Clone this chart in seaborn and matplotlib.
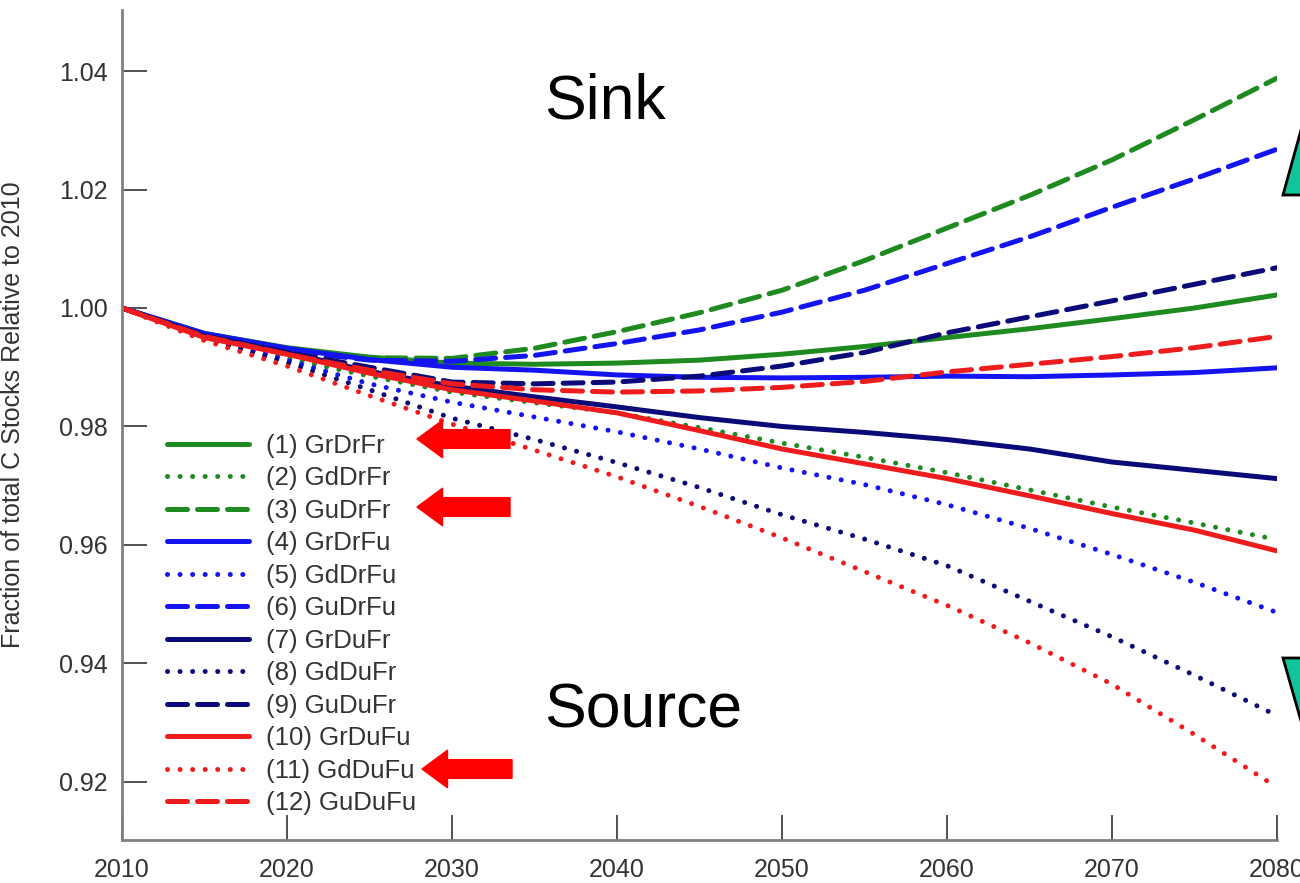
import matplotlib
matplotlib.use("Agg")
import matplotlib.pyplot as plt
from matplotlib import font_manager
from matplotlib.patches import Polygon
import seaborn as sns

# ---------------- DATA ----------------
years = [2010, 2015, 2020, 2025, 2030, 2035, 2040, 2045, 2050, 2055, 2060, 2065, 2070, 2075, 2080]

gr_dr_fr = [1.000, 0.9957, 0.9933, 0.9917, 0.9907, 0.9905, 0.9907, 0.9912, 0.9922, 0.9935, 0.9950, 0.9965, 0.9982, 1.0000, 1.0022]
gd_dr_fr = [1.000, 0.9948, 0.9915, 0.9885, 0.9858, 0.9840, 0.9823, 0.9798, 0.9772, 0.9748, 0.9722, 0.9693, 0.9664, 0.9637, 0.9609]
gu_dr_fr = [1.000, 0.9955, 0.9930, 0.9916, 0.9915, 0.9932, 0.9960, 0.9992, 1.0030, 1.0080, 1.0135, 1.0190, 1.0250, 1.0318, 1.0388]
gr_dr_fu = [1.000, 0.9957, 0.9932, 0.9913, 0.9900, 0.9895, 0.9887, 0.9883, 0.9882, 0.9883, 0.9885, 0.9884, 0.9887, 0.9891, 0.9899]
gd_dr_fu = [1.000, 0.9950, 0.9912, 0.9872, 0.9841, 0.9816, 0.9791, 0.9762, 0.9730, 0.9702, 0.9668, 0.9628, 0.9584, 0.9537, 0.9486]
gu_dr_fu = [1.000, 0.9955, 0.9928, 0.9912, 0.9910, 0.9920, 0.9940, 0.9963, 0.9993, 1.0030, 1.0075, 1.0120, 1.0170, 1.0218, 1.0268]
gr_du_fr = [1.000, 0.9953, 0.9925, 0.9893, 0.9868, 0.9850, 0.9833, 0.9815, 0.9800, 0.9790, 0.9778, 0.9762, 0.9740, 0.9726, 0.9712]
gd_du_fr = [1.000, 0.9948, 0.9908, 0.9862, 0.9814, 0.9778, 0.9739, 0.9697, 0.9651, 0.9610, 0.9565, 0.9505, 0.9445, 0.9380, 0.9312]
gu_du_fr = [1.000, 0.9953, 0.9925, 0.9900, 0.9875, 0.9872, 0.9875, 0.9885, 0.9902, 0.9925, 0.9958, 0.9985, 1.0012, 1.0040, 1.0068]
gr_du_fu = [1.000, 0.9950, 0.9922, 0.9890, 0.9862, 0.9843, 0.9823, 0.9793, 0.9762, 0.9737, 0.9712, 0.9683, 0.9653, 0.9625, 0.9590]
gd_du_fu = [1.000, 0.9945, 0.9902, 0.9852, 0.9804, 0.9760, 0.9715, 0.9665, 0.9612, 0.9555, 0.9498, 0.9435, 0.9365, 0.9280, 0.9191]
gu_du_fu = [1.000, 0.9952, 0.9922, 0.9895, 0.9872, 0.9862, 0.9858, 0.9860, 0.9866, 0.9876, 0.9892, 0.9905, 0.9918, 0.9933, 0.9952]

labels = ["(1) GrDrFr", "(2) GdDrFr", "(3) GuDrFr", "(4) GrDrFu", "(5) GdDrFu", "(6) GuDrFu",
          "(7) GrDuFr", "(8) GdDuFr", "(9) GuDuFr", "(10) GrDuFu", "(11) GdDuFu", "(12) GuDuFu"]
series = [gr_dr_fr, gd_dr_fr, gu_dr_fr, gr_dr_fu, gd_dr_fu, gu_dr_fu,
          gr_du_fr, gd_du_fr, gu_du_fr, gr_du_fu, gd_du_fu, gu_du_fu]

yticks = [0.92, 0.94, 0.96, 0.98, 1.00, 1.02, 1.04]
xticks = [2010, 2020, 2030, 2040, 2050, 2060, 2070, 2080]
# --------------------------------------

GREEN = "#1f8a1f"
BLUE = "#1414f0"
NAVY = "#0a0a78"
RED = "#ee1c1c"
colors = [GREEN] * 3 + [BLUE] * 3 + [NAVY] * 3 + [RED] * 3
SOLID, DOT, DASH = None, (0.01, 2.5), (4.0, 2.0)
styles = [SOLID, DOT, DASH] * 4

sns.set_style("white")
names = {f.name for f in font_manager.fontManager.ttflist}
NARROW = "Liberation Sans Narrow" if "Liberation Sans Narrow" in names else "Liberation Sans"
plt.rcParams["font.family"] = ["Liberation Sans", "DejaVu Sans"]

W, H = 1300, 883
fig = plt.figure(figsize=(W / 100, H / 100), dpi=100)
ax = fig.add_axes([122 / W, (H - 840) / H, (1277 - 122) / W, (840 - 10) / H])

for vals, lab, col, sty in zip(series, labels, colors, styles):
    sns.lineplot(x=years, y=vals, ax=ax, color=col, lw=3.6, label=lab)
    line = ax.get_lines()[-1]
    if sty is not None:
        line.set_dashes(sty)
        line.set_dash_capstyle("round")

ax.set_xlim(2010, 2080)
ax.set_ylim(0.9102, 1.0503)
ax.set_xticks(xticks)
ax.set_yticks(yticks)
ax.set_yticklabels([f"{t:.2f}" for t in yticks])
ax.set_xticklabels([str(t) for t in xticks])
ax.tick_params(axis="both", direction="in", length=18, width=1.2, color="#333333",
               labelcolor="#333333", labelsize=18, pad=10, left=True, bottom=True)
ax.tick_params(axis="x", labelsize=18, pad=13)
for s in ["top", "right"]:
    ax.spines[s].set_visible(False)
for s in ["left", "bottom"]:
    ax.spines[s].set_color("#808080")
    ax.spines[s].set_linewidth(2)

ax.set_xlabel("")
ax.set_ylabel("Fraction of total C Stocks Relative to 2010", fontsize=18,
              family=[NARROW, "DejaVu Sans"], color="#333333")
ax.yaxis.set_label_coords(-0.084, 0.512)

handles = ax.get_lines()
ax.legend(handles, labels, loc="upper left", bbox_to_anchor=(167 / W, 1 - 434 / H),
          bbox_transform=fig.transFigure, frameon=False, fontsize=18.5, handlelength=3.2,
          handletextpad=0.65, labelspacing=0.33, borderpad=0, borderaxespad=0,
          labelcolor="#333333")

ax.text(2035.6, 1.032, "Sink", fontsize=45, va="baseline", ha="left", color="black")
ax.text(2035.6, 0.9292, "Source", fontsize=45, va="baseline", ha="left", color="black")

# red arrows pointing at the highlighted scenarios
for tip_x, tail_x, y in [(417, 510, 439), (417, 510, 507), (422, 512, 769)]:
    ax.annotate("", xy=(tip_x, H - y), xycoords="figure pixels",
                xytext=(tail_x, H - y), textcoords="figure pixels",
                arrowprops=dict(arrowstyle="simple,head_length=0.68,head_width=1.0,tail_width=0.5",
                                mutation_scale=27, color="#ff0000", shrinkA=0, shrinkB=0))

# teal triangles cut by the right edge
up = [(1283, 195), (1306, 112), (1329, 195)]
down = [(1283, 658), (1331, 658), (1307, 742)]
for pts in [up, down]:
    fig.add_artist(Polygon([(x / W, 1 - y / H) for x, y in pts], closed=True,
                           transform=fig.transFigure, facecolor="#12c49a",
                           edgecolor="black", lw=2, clip_on=False))

fig.savefig("out.png", dpi=100)
